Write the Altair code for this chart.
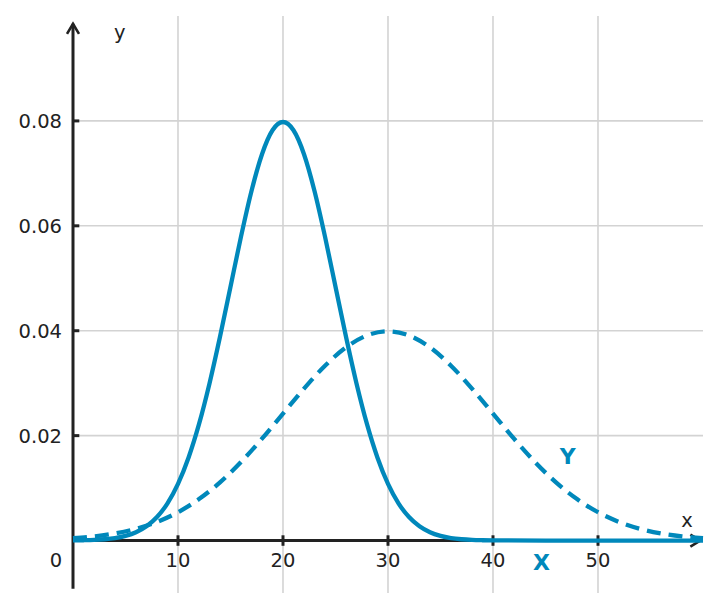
import altair as alt
import pandas as pd

# ---- data ----
X_XS = list(range(0, 41)) + [45, 50, 55, 60]
X_VALS = [0.00003, 0.00006, 0.00012, 0.00025, 0.00048, 0.00089, 0.00158, 0.00272,
          0.00448, 0.00709, 0.01080, 0.01579, 0.02218, 0.02995, 0.03884, 0.04839,
          0.05794, 0.06664, 0.07365, 0.07821, 0.07979,
          0.07821, 0.07365, 0.06664, 0.05794, 0.04839, 0.03884, 0.02995, 0.02218,
          0.01579, 0.01080, 0.00709, 0.00448, 0.00272, 0.00158, 0.00089, 0.00048,
          0.00025, 0.00012, 0.00006, 0.00003,
          0.0, 0.0, 0.0, 0.0]

Y_XS = list(range(0, 61, 2))
Y_VALS = [0.00044, 0.00079, 0.00136, 0.00224, 0.00355, 0.00540, 0.00790, 0.01109,
          0.01497, 0.01942, 0.02420, 0.02897, 0.03332, 0.03683, 0.03910, 0.03989,
          0.03910, 0.03683, 0.03332, 0.02897, 0.02420, 0.01942, 0.01497, 0.01109,
          0.00790, 0.00540, 0.00355, 0.00224, 0.00136, 0.00079, 0.00044]

GRID_X = [10, 20, 30, 40, 50]
GRID_Y = [0.02, 0.04, 0.06, 0.08]
X_TICK_LABELS = ["10", "20", "30", "40", "50"]
Y_TICK_LABELS = ["0.02", "0.04", "0.06", "0.08"]
X_DOMAIN = [0, 60]
Y_DOMAIN = [-0.01, 0.1]
AXIS_X_END = 59.75
AXIS_Y_END = 0.0985
AXIS_Y_START = -0.0092
TICK_HALF_Y = 0.001
TICK_LEN_X = 0.6

BLUE = "#0088bb"
INK = "#222222"
GRIDC = "#d3d3d3"
FONT = "DejaVu Sans"
FS = 19.5

xs = alt.Scale(domain=X_DOMAIN, nice=False, zero=False)
ys = alt.Scale(domain=Y_DOMAIN, nice=False, zero=False)


def X(f):
    return alt.X(f, type="quantitative", scale=xs, axis=None)


def Y(f):
    return alt.Y(f, type="quantitative", scale=ys, axis=None)


# grid
vgrid = pd.DataFrame({"x": GRID_X, "y0": Y_DOMAIN[0], "y1": Y_DOMAIN[1]})
hgrid = pd.DataFrame({"y": GRID_Y, "x0": X_DOMAIN[0], "x1": X_DOMAIN[1]})
grid_v = alt.Chart(vgrid).mark_rule(color=GRIDC, strokeWidth=1.6).encode(
    x=X("x"), y=Y("y0"), y2="y1")
grid_h = alt.Chart(hgrid).mark_rule(color=GRIDC, strokeWidth=1.6).encode(
    y=Y("y"), x=X("x0"), x2="x1")

# axes + ticks
rows = [
    {"x0": 0, "x1": 0, "y0": AXIS_Y_START, "y1": AXIS_Y_END},
    {"x0": 0, "x1": AXIS_X_END, "y0": 0, "y1": 0},
]
for gx in GRID_X:
    rows.append({"x0": gx, "x1": gx, "y0": -TICK_HALF_Y, "y1": TICK_HALF_Y})
for gy in GRID_Y:
    rows.append({"x0": 0, "x1": TICK_LEN_X, "y0": gy, "y1": gy})
axes_df = pd.DataFrame(rows)
axes = alt.Chart(axes_df).mark_rule(color=INK, strokeWidth=3).encode(
    x=X("x0"), x2="x1", y=Y("y0"), y2="y1")

arrows_df = pd.DataFrame({"x": [0, AXIS_X_END], "y": [AXIS_Y_END, 0], "angle": [0, 90]})
arrows = alt.Chart(arrows_df).mark_point(
    shape="M-0.6,1L0,0L0.6,1", filled=False, size=400, strokeWidth=2.6,
    color=INK, opacity=1).encode(
    x=X("x"), y=Y("y"), angle=alt.Angle("angle:Q", scale=None))

# curves
xdf = pd.DataFrame({"x": X_XS, "y": X_VALS})
ydf = pd.DataFrame({"x": Y_XS, "y": Y_VALS})
curve_x = alt.Chart(xdf).mark_line(color=BLUE, strokeWidth=4.3, interpolate="monotone").encode(
    x=X("x"), y=Y("y"))
curve_y = alt.Chart(ydf).mark_line(color=BLUE, strokeWidth=4.3, interpolate="monotone",
                                   strokeDash=[14, 8]).encode(x=X("x"), y=Y("y"))

# tick labels
xl = pd.DataFrame({"x": GRID_X, "y": 0, "t": X_TICK_LABELS})
xlab = alt.Chart(xl).mark_text(font=FONT, fontSize=FS, color=INK, align="center",
                               baseline="alphabetic", dy=26).encode(
    x=X("x"), y=Y("y"), text="t:N")
zl = pd.DataFrame({"x": [0], "y": [0], "t": ["0"]})
zlab = alt.Chart(zl).mark_text(font=FONT, fontSize=FS, color=INK, align="center",
                               baseline="alphabetic", dy=26, dx=-17).encode(
    x=X("x"), y=Y("y"), text="t:N")
yl = pd.DataFrame({"x": 0, "y": GRID_Y, "t": Y_TICK_LABELS})
ylab = alt.Chart(yl).mark_text(font=FONT, fontSize=FS, color=INK, align="right",
                               baseline="middle", dx=-11, dy=1).encode(
    x=X("x"), y=Y("y"), text="t:N")

# axis names
an = pd.DataFrame({"x": [58.48, 4.45], "y": [0.00261, 0.09562], "t": ["x", "y"]})
anames = alt.Chart(an).mark_text(font=FONT, fontSize=FS, color=INK, align="center",
                                 baseline="alphabetic").encode(
    x=X("x"), y=Y("y"), text="t:N")

# series labels
sn = pd.DataFrame({"x": [47.12, 44.62], "y": [0.01467, -0.00571], "t": ["Y", "X"]})
snames = alt.Chart(sn).mark_text(font=FONT, fontSize=22, fontWeight="bold", color=BLUE,
                                 align="center", baseline="alphabetic").encode(
    x=X("x"), y=Y("y"), text="t:N")

chart = alt.layer(
    grid_v, grid_h, axes, arrows, curve_y, curve_x, xlab, zlab, ylab, anames, snames
).properties(
    width=630, height=577,
    padding={"left": 65, "top": 8, "right": 9, "bottom": 11},
    autosize=alt.AutoSizeParams(type="none"),
).configure_view(stroke=None)

chart.save("out.html", embed_options={"renderer": "svg", "actions": False})
